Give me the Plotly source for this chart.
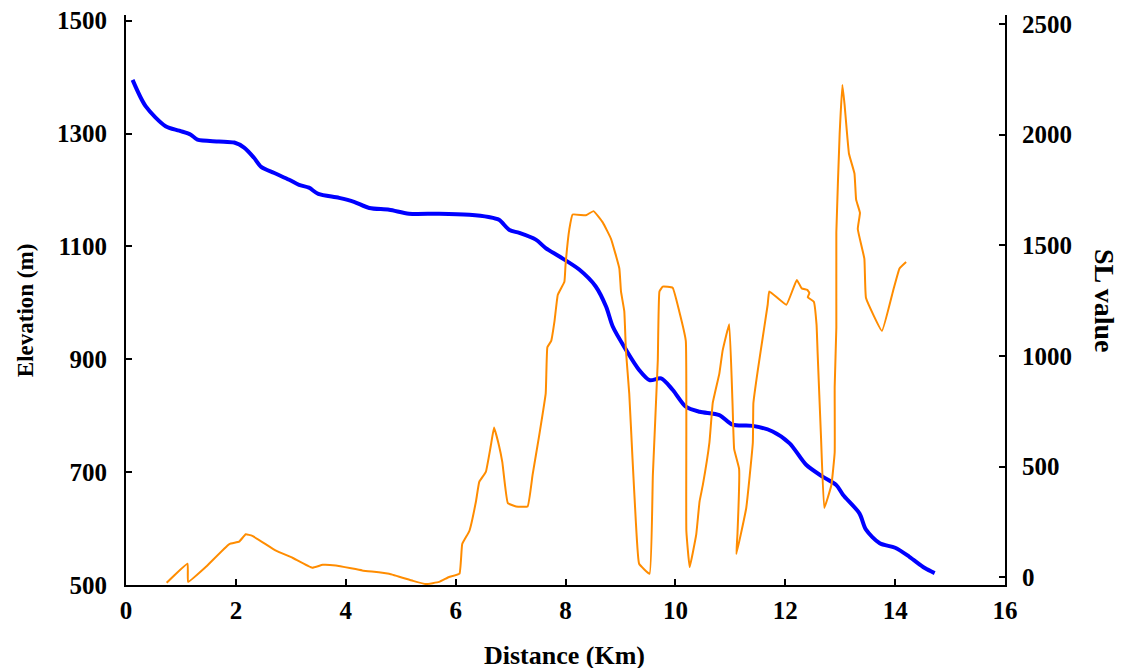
import plotly.graph_objects as go

# elevation profile (blue, left axis)
dist_elev = [0.12, 0.36, 0.72, 0.97, 1.18, 1.30, 1.69, 1.97, 2.15, 2.33, 2.46, 2.70, 2.97,
             3.15, 3.33, 3.50, 3.88, 4.15, 4.43, 4.79, 5.15, 5.70, 6.25, 6.60, 6.79, 6.98,
             7.16, 7.46, 7.64, 7.89, 8.25, 8.55, 8.74, 8.86, 9.10, 9.34, 9.53, 9.74, 9.95,
             10.19, 10.44, 10.80, 11.04, 11.41, 11.77, 12.08, 12.38, 12.68, 12.93, 13.05,
             13.35, 13.47, 13.72, 14.00, 14.26, 14.54, 14.72]
elevation = [1395, 1348, 1313, 1305, 1298, 1289, 1286, 1284, 1275, 1257, 1241, 1230, 1218,
             1209, 1204, 1193, 1186, 1179, 1168, 1165, 1158, 1158, 1156, 1152, 1147, 1129,
             1124, 1112, 1097, 1082, 1059, 1029, 993, 958, 917, 881, 863, 866, 846,
             816, 807, 801, 784, 782, 772, 751, 713, 692, 677, 660,
             627, 598, 574, 566, 550, 530, 521]

# SL index (orange, right axis)
dist_sl = [0.74, 1.12, 1.13, 1.45, 1.88, 2.06, 2.18, 2.30, 2.73, 3.03, 3.39, 3.58, 3.82,
           4.30, 4.79, 5.22, 5.46, 5.70, 5.88, 6.07, 6.12, 6.25, 6.37, 6.43, 6.55, 6.64,
           6.70, 6.79, 6.85, 6.95, 7.10, 7.31, 7.40, 7.52, 7.64, 7.67, 7.74, 7.80, 7.86,
           7.98, 8.00, 8.07, 8.13, 8.37, 8.51, 8.68, 8.83, 8.98, 9.01, 9.07, 9.10, 9.16,
           9.22, 9.28, 9.34, 9.53, 9.59, 9.68, 9.71, 9.77, 9.95, 10.07, 10.19, 10.20,
           10.26, 10.38, 10.44, 10.50, 10.62, 10.68, 10.80, 10.86, 10.98, 11.04, 11.07,
           11.16, 11.13, 11.11, 11.29, 11.41, 11.42, 11.50, 11.59, 11.68, 11.71, 12.02,
           12.21, 12.30, 12.40, 12.44, 12.41, 12.52, 12.57, 12.59, 12.65, 12.71, 12.84,
           12.90, 12.90, 12.93, 12.93, 12.99, 13.04, 13.08, 13.16, 13.26, 13.29, 13.36,
           13.32, 13.44, 13.47, 13.76, 13.96, 14.08, 14.20]
sl_value = [-25, 61, -21, 46, 150, 161, 194, 187, 120, 88, 43, 56, 53,
            31, 16, -16, -31, -21, 1, 16, 150, 209, 342, 431, 476, 594,
            676, 594, 520, 335, 320, 320, 461, 639, 831, 1039, 1068, 1157, 1276,
            1335, 1409, 1573, 1639, 1635, 1654, 1602, 1528, 1395, 1291, 1202, 1024, 831,
            535, 253, 61, 16, 461, 979, 1291, 1313, 1308, 1202, 1068, 209,
            46, 194, 342, 417, 609, 787, 920, 1024, 1143, 787, 579,
            490, 194, 105, 313, 609, 787, 935, 1083, 1231, 1291, 1231,
            1343, 1305, 1298, 1285, 1265, 1245, 1140, 1009, 639, 313, 417,
            565, 861, 1128, 1558, 2002, 2224, 2135, 1913, 1824, 1706, 1646,
            1573, 1439, 1261, 1113, 1291, 1395, 1424]

FONT = "Times New Roman, Liberation Serif, serif"

fig = go.Figure()
fig.add_trace(go.Scatter(x=dist_elev, y=elevation, mode="lines",
                         line=dict(color="#0000FF", width=4, shape="spline", smoothing=0.8),
                         yaxis="y"))
fig.add_trace(go.Scatter(x=dist_sl, y=sl_value, mode="lines",
                         line=dict(color="#FF8C00", width=2, shape="spline", smoothing=0.3),
                         yaxis="y2"))

axis_common = dict(showgrid=False, zeroline=False, showline=True, linecolor="black",
                   linewidth=2, ticks="inside", ticklen=6, tickwidth=2, tickcolor="black",
                   automargin=False, ticklabeloverflow="allow",
                   tickfont=dict(family=FONT, size=25, color="black", weight="bold"))

# page body adds an 8px offset, margins are set to compensate
fig.update_layout(
    width=1124, height=668,
    margin=dict(l=118, r=127, t=7, b=91),
    plot_bgcolor="white", paper_bgcolor="white",
    showlegend=False,
    xaxis=dict(range=[0, 16], tickvals=list(range(0, 17, 2)), ticklabelstandoff=2,
               **axis_common),
    yaxis=dict(range=[500, 1510], tickvals=list(range(500, 1501, 200)),
               ticklabelstandoff=12, **axis_common),
    yaxis2=dict(range=[-35, 2540], tickvals=list(range(0, 2501, 500)), overlaying="y",
                side="right", ticklabelstandoff=10, **axis_common),
    annotations=[
        dict(text="Elevation (m)", x=-0.115, y=0.482, xref="paper", yref="paper",
             xanchor="center", yanchor="middle", textangle=-90, showarrow=False,
             font=dict(family=FONT, size=23, color="black", weight="bold")),
        dict(text="Distance (Km)", x=0.4994, y=-0.123, xref="paper", yref="paper",
             xanchor="center", yanchor="middle", showarrow=False,
             font=dict(family=FONT, size=26, color="black", weight="bold")),
        dict(text="SL value", x=1.1138, y=0.5, xref="paper", yref="paper",
             xanchor="center", yanchor="middle", textangle=90, showarrow=False,
             font=dict(family=FONT, size=28, color="black", weight="bold")),
    ],
)

fig.write_html("out.html")
